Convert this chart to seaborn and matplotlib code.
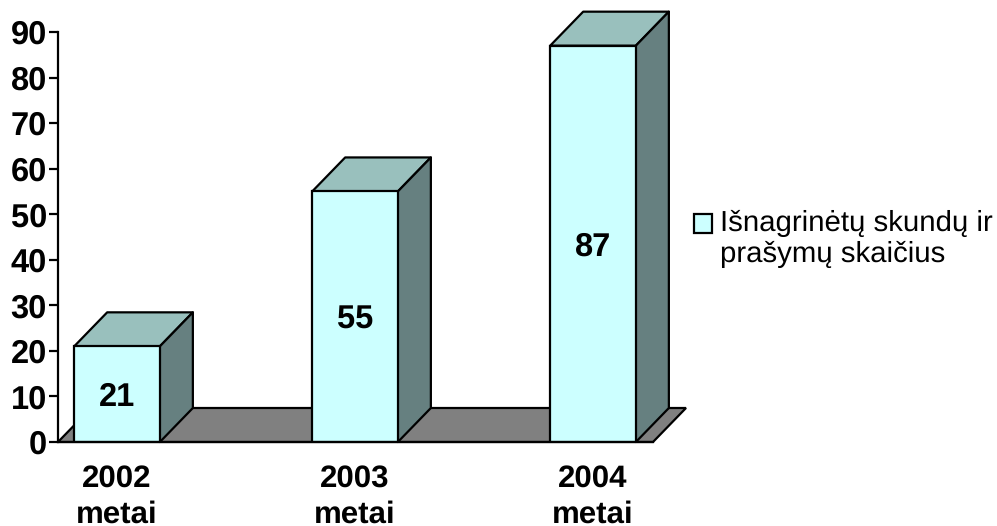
import matplotlib
matplotlib.use("Agg")
import matplotlib.pyplot as plt
from matplotlib.patches import Polygon
import seaborn as sns
import pandas as pd

years = ["2002\nmetai", "2003\nmetai", "2004\nmetai"]
values = [21, 55, 87]
series_name = "Išnagrinėtų skundų ir\nprašymų skaičius"
y_ticks = list(range(0, 100, 10))

FRONT, TOP, SIDE, FLOOR = "#CCFFFF", "#99C0BD", "#668080", "#808080"
EDGE = "#000000"
LW = 1.6

sns.set_theme(style="white")
plt.rcParams["font.family"] = ["Liberation Sans", "DejaVu Sans"]
plt.rcParams["text.hinting"] = "no_hinting"

W, H = 997, 526
fig = plt.figure(figsize=(W / 100, H / 100), dpi=100)
left, right, top, bottom = 58, 653, 32, 442
ax = fig.add_axes([left / W, 1 - bottom / H, (right - left) / W, (bottom - top) / H])

df = pd.DataFrame({"year": years, "value": values})
sns.barplot(data=df, x="year", y="value", color=FRONT, saturation=1, width=0.36,
            edgecolor=EDGE, linewidth=LW, ax=ax, label=series_name, zorder=4)

xmin, xmax = -0.248, 2.252
ax.set_xlim(xmin, xmax)
ax.set_ylim(0, 90)

# oblique depth of the 3D box, in data units
dx = 33 / 238
dy = 34 / ((bottom - top) / 90)

ax.add_patch(Polygon([(xmin, 0), (xmax, 0), (xmax + dx, dy), (xmin + dx, dy)],
                     closed=True, facecolor=FLOOR, edgecolor=EDGE, linewidth=LW,
                     zorder=1, clip_on=False))

for bar in ax.patches[:]:
    if not hasattr(bar, "get_width"):
        continue
    x0, w, h = bar.get_x(), bar.get_width(), bar.get_height()
    x1 = x0 + w
    ax.add_patch(Polygon([(x0, h), (x1, h), (x1 + dx, h + dy), (x0 + dx, h + dy)],
                         closed=True, facecolor=TOP, edgecolor=EDGE, linewidth=LW,
                         joinstyle="round", zorder=3, clip_on=False))
    ax.add_patch(Polygon([(x1, 0), (x1 + dx, dy), (x1 + dx, h + dy), (x1, h)],
                         closed=True, facecolor=SIDE, edgecolor=EDGE, linewidth=LW,
                         joinstyle="round", zorder=3, clip_on=False))
    ax.annotate(f"{int(h)}", (x0 + w / 2, h / 2), xytext=(0, -2.5), textcoords="offset points",
                ha="center", va="center", fontsize=23.5, fontweight="bold", color="black", zorder=5)

ax.set_xlabel("")
ax.set_ylabel("")
ax.set_yticks(y_ticks)
ax.tick_params(axis="y", left=True, length=6.5, width=LW, pad=1.5, labelsize=23.5,
               color=EDGE, labelcolor="black")
ax.tick_params(axis="x", bottom=False, pad=10, labelsize=22.5, labelcolor="black")
for lab in ax.get_xticklabels():
    lab.set_fontweight("bold")
    lab.set_linespacing(1.33)
for lab in ax.get_yticklabels():
    lab.set_fontweight("bold")

for s in ("top", "right"):
    ax.spines[s].set_visible(False)
for s in ("left", "bottom"):
    ax.spines[s].set_visible(True)
    ax.spines[s].set_color(EDGE)
    ax.spines[s].set_linewidth(LW)
    ax.spines[s].set_zorder(6)
ax.patch.set_alpha(0)

leg = ax.legend(loc="upper left", bbox_to_anchor=(694 / W, 1 - 210 / H),
                bbox_transform=fig.transFigure, frameon=False, fontsize=21.2,
                handlelength=0.62, handleheight=0.62, handletextpad=0.25,
                borderpad=0, borderaxespad=0, labelspacing=0)
for t in leg.get_texts():
    t.set_color("black")
    t.set_linespacing(1.17)
# the key sits beside the first line of the label
handle = leg.legend_handles[0]
handle.set_y(handle.get_y() + 11)

fig.savefig("out.png", dpi=100, facecolor="white")
